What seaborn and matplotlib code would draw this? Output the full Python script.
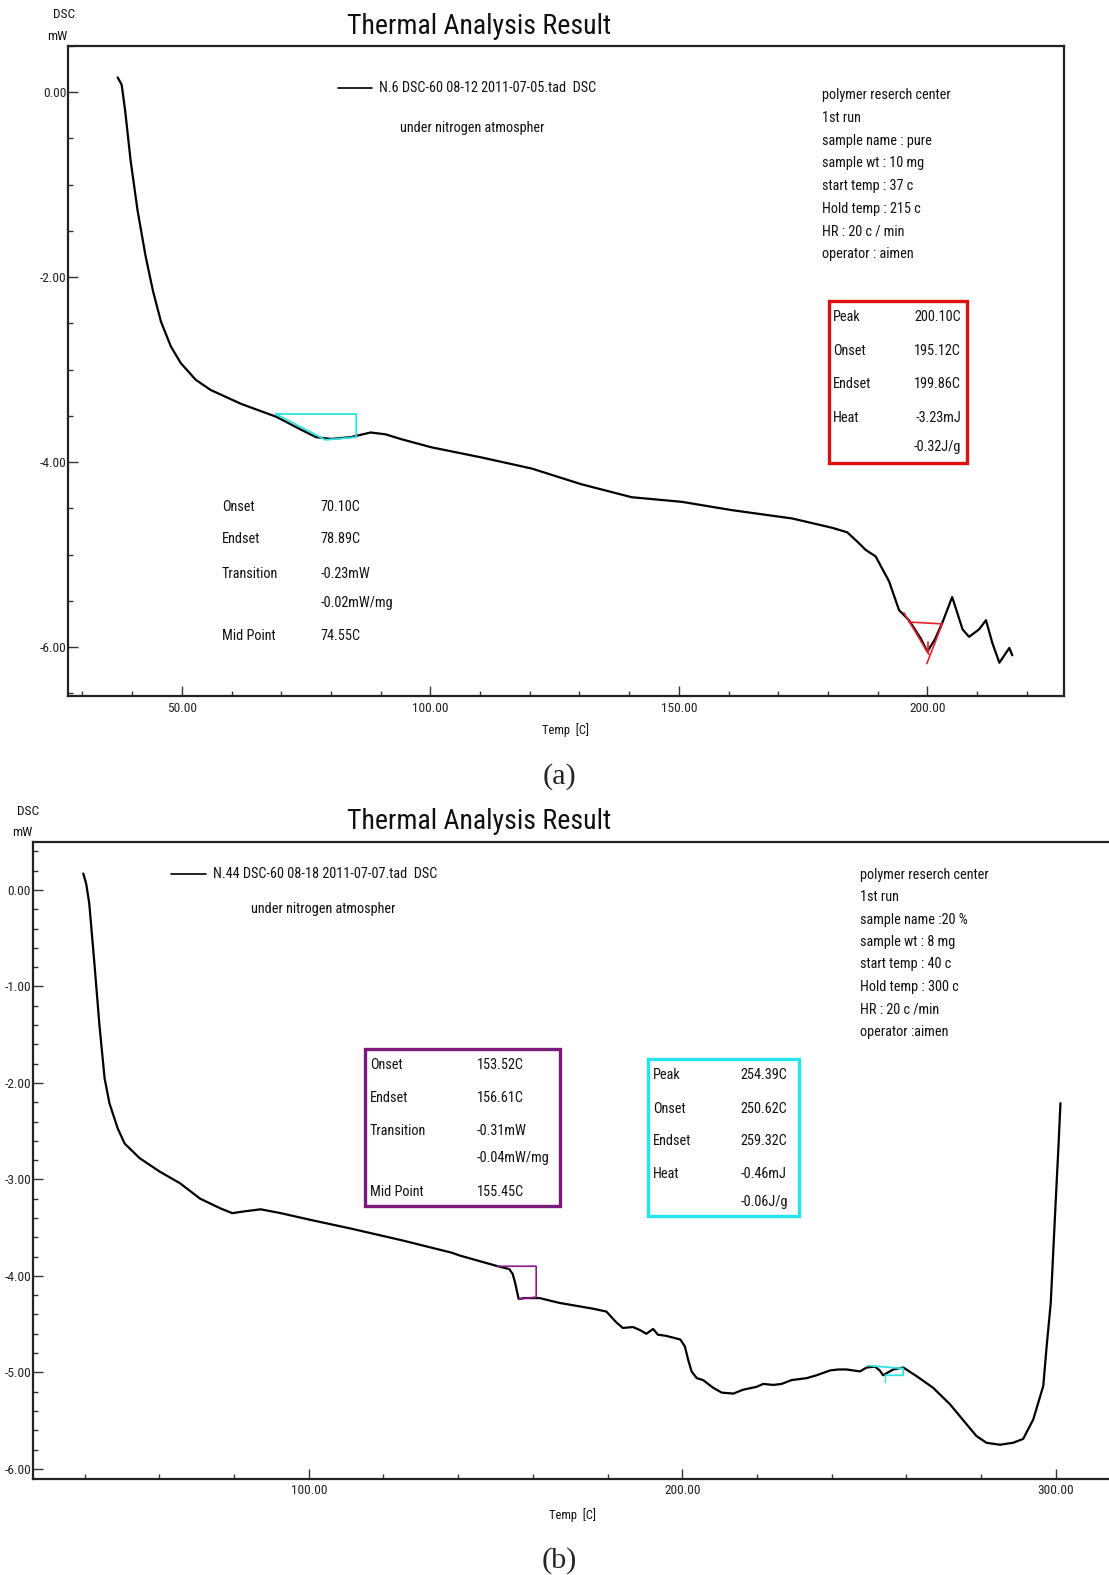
import numpy as np
import pandas as pd
import matplotlib
matplotlib.use("Agg")
import matplotlib.pyplot as plt
from matplotlib import font_manager
from matplotlib.ticker import MultipleLocator, FormatStrFormatter
import seaborn as sns

# ---------------- data ----------------
# panel (a): pure sample
temp_a = [37.1, 37.9, 38.6, 39.7, 41.1, 42.7, 44.2, 45.8, 47.8, 49.8, 52.8, 55.8, 61.9,
          69.0, 74.0, 77.0, 80.0, 84.0, 88.0, 91.0, 94.0, 100.2, 110.3, 120.4, 130.4,
          140.5, 150.6, 160.7, 172.8, 180.8, 183.9, 185.9, 187.6, 189.6, 192.3, 194.3,
          196.3, 198.6, 200.0, 201.5, 203.0, 205.0, 207.1, 208.4, 210.4, 211.8, 213.1,
          214.5, 216.5, 217.1]
dsc_a = [0.16, 0.08, -0.20, -0.74, -1.28, -1.77, -2.15, -2.48, -2.75, -2.93, -3.11, -3.22,
         -3.37, -3.51, -3.65, -3.73, -3.75, -3.73, -3.68, -3.70, -3.75, -3.84, -3.95,
         -4.07, -4.24, -4.38, -4.43, -4.52, -4.61, -4.71, -4.76, -4.86, -4.95, -5.02,
         -5.29, -5.60, -5.71, -5.90, -6.05, -5.92, -5.74, -5.46, -5.81, -5.89, -5.81,
         -5.71, -5.96, -6.17, -6.01, -6.09]

# panel (b): 20 % sample
temp_b = [39.6, 40.4, 41.2, 42.6, 43.9, 45.3, 46.6, 48.8, 50.7, 54.7, 60.1, 65.5, 70.9,
          76.3, 79.5, 83.0, 87.1, 92.5, 100.5, 111.3, 124.8, 138.3, 140.5, 150.6, 153.7,
          154.6, 155.3, 156.2, 157.7, 161.8, 167.1, 176.1, 179.7, 182.3, 184.1, 186.8,
          188.6, 190.4, 192.2, 193.5, 195.5, 197.6, 199.5, 200.7, 201.6, 202.5, 203.9,
          205.6, 208.3, 210.6, 213.7, 216.3, 219.9, 221.7, 224.4, 226.6, 229.3, 233.3,
          236.0, 239.6, 241.8, 244.0, 247.6, 249.4, 251.6, 252.9, 253.8, 254.7, 256.5,
          259.2, 262.8, 267.2, 271.7, 276.2, 278.8, 281.5, 285.1, 288.6, 291.3, 294.0,
          296.7, 297.6, 298.7, 300.0, 300.8, 301.3]
dsc_b = [0.17, 0.06, -0.14, -0.77, -1.39, -1.95, -2.21, -2.47, -2.63, -2.78, -2.92, -3.04,
         -3.20, -3.30, -3.35, -3.33, -3.31, -3.35, -3.42, -3.51, -3.63, -3.76, -3.79,
         -3.90, -3.93, -3.98, -4.08, -4.24, -4.23, -4.23, -4.28, -4.34, -4.37, -4.48,
         -4.54, -4.53, -4.56, -4.60, -4.55, -4.61, -4.62, -4.64, -4.66, -4.73, -4.87,
         -4.99, -5.06, -5.08, -5.16, -5.21, -5.22, -5.18, -5.15, -5.12, -5.13, -5.12,
         -5.08, -5.06, -5.03, -4.98, -4.97, -4.97, -4.99, -4.95, -4.94, -4.98, -5.03,
         -5.01, -4.97, -4.95, -5.04, -5.16, -5.33, -5.54, -5.66, -5.73, -5.75, -5.73,
         -5.69, -5.49, -5.14, -4.73, -4.28, -3.25, -2.63, -2.21]

# analysis construction lines (temperature, DSC)
tg_a_x = [68.9, 85.1, 85.1, 78.9, 68.9]
tg_a_y = [-3.48, -3.48, -3.73, -3.76, -3.48]
peak_a_base_x = [196.3, 203.0]
peak_a_base_y = [-5.73, -5.75]
peak_a_left_x = [195.3, 200.3]
peak_a_left_y = [-5.63, -6.08]
peak_a_right_x = [199.9, 203.0]
peak_a_right_y = [-6.18, -5.75]
peak_a_mark_x = [200.1, 200.1]
peak_a_mark_y = [-5.95, -6.05]

tg_b_x = [150.6, 160.9, 160.9, 156.2]
tg_b_y = [-3.90, -3.90, -4.22, -4.24]
peak_b_x = [249.8, 259.2, 259.2, 254.7]
peak_b_y = [-4.93, -4.96, -5.03, -5.03]
peak_b_mark_x = [254.4, 254.4]
peak_b_mark_y = [-5.02, -5.10]

info_a = ["polymer reserch center", "1st run", "sample name : pure", "sample wt : 10 mg",
          "start temp : 37 c", "Hold temp : 215 c", "HR : 20 c / min", "operator : aimen"]
info_b = ["polymer reserch center", "1st run", "sample name :20 %", "sample wt : 8 mg",
          "start temp : 40 c", "Hold temp : 300 c", "HR : 20 c /min", "operator :aimen"]
peak_a_labels = ["Peak", "Onset", "Endset", "Heat", ""]
peak_a_values = ["200.10C", "195.12C", "199.86C", "-3.23mJ", "-0.32J/g"]
tg_a_labels = ["Onset", "Endset", "Transition", "", "Mid Point"]
tg_a_values = ["70.10C", "78.89C", "-0.23mW", "-0.02mW/mg", "74.55C"]
tg_b_labels = ["Onset", "Endset", "Transition", "", "Mid Point"]
tg_b_values = ["153.52C", "156.61C", "-0.31mW", "-0.04mW/mg", "155.45C"]
peak_b_labels = ["Peak", "Onset", "Endset", "Heat", ""]
peak_b_values = ["254.39C", "250.62C", "259.32C", "-0.46mJ", "-0.06J/g"]
legend_a = "N.6 DSC-60 08-12 2011-07-05.tad  DSC"
legend_b = "N.44 DSC-60 08-18 2011-07-07.tad  DSC"
subtitle = "under nitrogen atmospher"
title = "Thermal Analysis Result"

# ---------------- style ----------------
sns.set_theme(style="white")


def has_family(n):
    try:
        font_manager.findfont(n, fallback_to_default=False)
        return True
    except Exception:
        return False


SANS = None
STRETCH = "normal"
for n in ["Liberation Sans Narrow", "Arial Narrow", "Roboto Condensed",
          "Open Sans Condensed", "DejaVu Sans Condensed"]:
    if has_family(n):
        SANS = n
        break
if SANS is None:
    cond = [f for f in font_manager.fontManager.ttflist
            if "DejaVuSansCondensed.ttf" in f.fname]
    if cond:
        SANS = cond[0].name
        STRETCH = "condensed"
    else:
        SANS = "Liberation Sans" if has_family("Liberation Sans") else "DejaVu Sans"
SERIF = "Liberation Serif" if has_family("Liberation Serif") else "DejaVu Serif"
plt.rcParams["font.family"] = [SANS, "DejaVu Sans"]
plt.rcParams["font.stretch"] = STRETCH

W, H = 1109, 1575
fig = plt.figure(figsize=(W / 100, H / 100), dpi=100)
renderer = fig.canvas.get_renderer()


def fit(s, target, base=12.0, **kw):
    t = fig.text(0, 0, s, fontsize=base, **kw)
    w = t.get_window_extent(renderer).width
    t.remove()
    return base * target / w


# font sizes fitted to widths measured on the reference
BODY = fit("polymer reserch center", 129)
TITLE = fit(title, 263)
TICK = fit("100.00", 36)
SMALL = fit("Temp  [C]", 47)
DSCSZ = fit("DSC", 22)
PANEL = fit("(a)", 34, family=[SERIF])


def fx(x):
    return x / W


def fy(y):
    return 1 - y / H


def ftext(x, y, s, size=None, ha="left", va="center", **kw):
    fig.text(fx(x), fy(y), s, fontsize=size or BODY, ha=ha, va=va, color="#111111", **kw)


def box(x0, y0, x1, y1, color, lw=2.4):
    r = plt.Rectangle((fx(x0), fy(y1)), fx(x1) - fx(x0), fy(y0) - fy(y1),
                      transform=fig.transFigure, fill=False, edgecolor=color, lw=lw)
    fig.add_artist(r)


def style_axis(ax, xmaj, xmin, ymaj, ymin):
    ax.xaxis.set_major_locator(MultipleLocator(xmaj))
    ax.xaxis.set_minor_locator(MultipleLocator(xmin))
    ax.yaxis.set_major_locator(MultipleLocator(ymaj))
    ax.yaxis.set_minor_locator(MultipleLocator(ymin))
    ax.xaxis.set_major_formatter(FormatStrFormatter("%.2f"))
    ax.yaxis.set_major_formatter(FormatStrFormatter("%.2f"))
    ax.tick_params(which="major", direction="in", length=7, width=1, colors="#333333",
                   labelsize=TICK, labelcolor="#222222", pad=4,
                   bottom=True, left=True, top=False, right=False)
    ax.tick_params(which="minor", direction="in", length=3.5, width=1, colors="#333333",
                   bottom=True, left=True, top=False, right=False)
    ax.tick_params(axis="y", which="major", pad=1)
    for s in ax.spines.values():
        s.set_color("#222222")
        s.set_linewidth(1.6)
    ax.set_xlabel("")
    ax.set_ylabel("")


# ---------------- panel (a) ----------------
ax1 = fig.add_axes([fx(68), fy(696), fx(1064) - fx(68), fy(46) - fy(696)])
df_a = pd.DataFrame({"Temp": temp_a, "DSC": dsc_a})
sns.lineplot(data=df_a, x="Temp", y="DSC", ax=ax1, color="black", lw=1.6,
             estimator=None, sort=False)
ax1.plot(tg_a_x, tg_a_y, color="#2de3e3", lw=1.3)
for xs, ys in [(peak_a_base_x, peak_a_base_y), (peak_a_left_x, peak_a_left_y),
               (peak_a_right_x, peak_a_right_y), (peak_a_mark_x, peak_a_mark_y)]:
    ax1.plot(xs, ys, color="#e8202a", lw=1.2)
ax1.set_xlim(27.1, 227.5)
ax1.set_ylim(-6.53, 0.5)
style_axis(ax1, 50, 10, 2, 0.5)

# ---------------- panel (b) ----------------
ax2 = fig.add_axes([fx(32.5), fy(1478.5), 1 - fx(32.5), fy(841.7) - fy(1478.5)])
df_b = pd.DataFrame({"Temp": temp_b, "DSC": dsc_b})
sns.lineplot(data=df_b, x="Temp", y="DSC", ax=ax2, color="black", lw=1.6,
             estimator=None, sort=False)
ax2.plot(tg_b_x, tg_b_y, color="#8a1a8a", lw=1.2)
ax2.plot(peak_b_x, peak_b_y, color="#2de3e3", lw=1.3)
ax2.plot(peak_b_mark_x, peak_b_mark_y, color="#2de3e3", lw=1.0)
ax2.set_xlim(26.0, 314.3)
ax2.set_ylim(-6.1, 0.5)
style_axis(ax2, 100, 20, 1, 0.2)
ax2.spines["right"].set_visible(False)

# ---------------- texts (a) ----------------
ftext(64, 15, "DSC", size=DSCSZ, ha="center")
ftext(57, 37, "mW", size=DSCSZ, ha="center")
ftext(479, 27, title, size=TITLE, ha="center")
fig.add_artist(plt.Line2D([fx(338), fx(372)], [fy(88.4), fy(88.4)],
                          transform=fig.transFigure, color="black", lw=1.2))
ftext(379, 88.4, legend_a)
ftext(400, 127.6, subtitle)
for i, s in enumerate(info_a):
    ftext(821.7, 95.4 + i * 22.65, s)
box(828.7, 301.4, 967.3, 463.1, "#e01010")
ys_a = [317.4, 350.6, 383.7, 417.9, 447.0]
for lab, val, y in zip(peak_a_labels, peak_a_values, ys_a):
    ftext(832.7, y, lab)
    ftext(961.0, y, val, ha="right")
ys_a2 = [507.3, 539.4, 573.6, 602.7, 635.8]
for lab, val, y in zip(tg_a_labels, tg_a_values, ys_a2):
    ftext(222, y, lab)
    ftext(320.4, y, val)
ftext(565.5, 730.3, "Temp  [C]", size=SMALL, ha="center")
fig.text(fx(559.5), fy(776.5), "(a)", fontsize=PANEL, ha="center", va="center",
         family=[SERIF, "DejaVu Serif"])

# ---------------- texts (b) ----------------
ftext(28.1, 811.6, "DSC", size=DSCSZ, ha="center")
ftext(22.1, 832.7, "mW", size=DSCSZ, ha="center")
ftext(479, 821.7, title, size=TITLE, ha="center")
fig.add_artist(plt.Line2D([fx(170.8), fx(206)], [fy(874), fy(874)],
                          transform=fig.transFigure, color="black", lw=1.2))
ftext(213, 874, legend_b)
ftext(251, 909, subtitle)
for i, s in enumerate(info_b):
    ftext(859.9, 875 + i * 22.37, s)
box(364.6, 1048.7, 559.5, 1206.4, "#7a1a7a")
ys_b = [1064.8, 1097.9, 1131.1, 1158.2, 1192.3]
for lab, val, y in zip(tg_b_labels, tg_b_values, ys_b):
    ftext(369.7, y, lab)
    ftext(477.1, y, val)
box(647.9, 1058.7, 798.6, 1216.4, "#22e5ee")
ys_b2 = [1074.8, 1109.0, 1141.1, 1174.3, 1202.4]
for lab, val, y in zip(peak_b_labels, peak_b_values, ys_b2):
    ftext(652.9, y, lab)
    ftext(740.3, y, val)
ftext(572.6, 1514.8, "Temp  [C]", size=SMALL, ha="center")
fig.text(fx(559.5), fy(1561), "(b)", fontsize=PANEL, ha="center", va="center",
         family=[SERIF, "DejaVu Serif"])

fig.savefig("out.png", dpi=100, facecolor="white")
